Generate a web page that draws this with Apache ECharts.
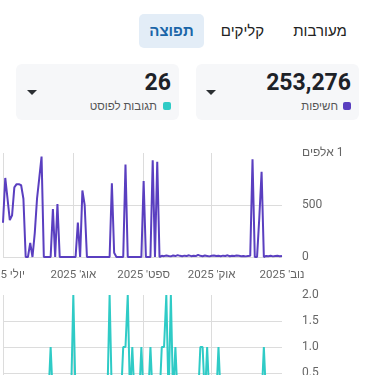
<!DOCTYPE html>
<html dir="rtl" lang="he">
<head>
<meta charset="utf-8">
<script src="https://cdn.jsdelivr.net/npm/echarts@6/dist/echarts.min.js"></script>
<style>
html,body{margin:0;padding:0;width:375px;height:375px;overflow:hidden;background:#fff;font-family:Roboto,"Liberation Sans",Arial,sans-serif;}
.tab{position:absolute;top:14px;height:34px;line-height:34px;font-size:15px;color:#222;text-align:center;}
.tab.sel{background:#e3edf7;color:#1a65a8;font-weight:700;border-radius:5px;}
.card{position:absolute;top:64px;width:163px;height:56px;background:#f6f7f9;border-radius:6px;}
.num{position:absolute;right:8px;top:5px;font-size:23px;line-height:28px;font-weight:700;color:#1d2228;}
.caret{position:absolute;left:10px;top:26px;width:0;height:0;border-left:5.5px solid transparent;border-right:5.5px solid transparent;border-top:5.5px solid #2b2f33;}
.sq{position:absolute;right:8px;top:38px;width:8px;height:8px;border-radius:2px;}
.lab{position:absolute;right:21px;top:35px;font-size:11.5px;line-height:14px;color:#555;white-space:nowrap;}
#chart{position:absolute;top:130px;left:0;width:375px;height:320px;}
</style>
</head>
<body>
<div class="tab" style="left:285px;width:70px;">מעורבות</div>
<div class="tab" style="left:207px;width:71px;">קליקים</div>
<div class="tab sel" style="left:139px;width:65px;">תפוצה</div>

<div class="card" style="left:196px;">
  <div class="num" id="n1"></div>
  <div class="caret"></div>
  <div class="sq" style="background:#5a3fc0;"></div>
  <div class="lab" id="l1"></div>
</div>
<div class="card" style="left:16px;">
  <div class="num" id="n2"></div>
  <div class="caret" style="left:11px;"></div>
  <div class="sq" style="background:#2fcbc6;"></div>
  <div class="lab" id="l2" style="right:22px;"></div>
</div>

<div id="chart"></div>
<script>
// ---- data ----
const tabLabels = ['מעורבות', 'קליקים', 'תפוצה'];
const kpiValues = ['253,276', '26'];
const kpiLabels = ['חשיפות', 'תגובות לפוסט'];
const monthNames = ['ינו\'', 'פבר\'', 'מרץ', 'אפר\'', 'מאי', 'יוני', 'יולי', 'אוג\'', 'ספט\'', 'אוק\'', 'נוב\'', 'דצמ\''];
const startDate = [2025, 6, 1]; // 1 July 2025, daily values follow
const impressions = [
  330,760,560,355,400,670,700,700,690,560,
  0,0,135,0,230,560,760,965,0,0,
  0,0,460,0,510,0,0,0,0,0,
  0,0,0,330,0,640,500,0,0,0,
  0,0,0,0,0,0,0,0,710,40,
  0,0,0,0,890,0,0,0,0,0,
  0,0,730,0,0,0,930,0,915,0,
  12,8,15,10,6,14,9,18,11,7,
  13,10,16,8,12,9,20,11,7,14,
  10,6,12,15,9,11,8,13,10,16,
  7,12,9,14,11,8,10,6,9,12,
  940,0,0,380,820,0,10,8,12,6,
  9,11,7,10
];
const comments = [
  0,0,0,0,0,0,0,0,0,0,
  0,0,0,0,0,0,0,0,0,0,
  0,1,0,0,0,0,0,0,0,0,
  0,2,0,0,0,0,0,0,0,0,
  0,0,0,0,0,0,0,2,0,0,
  0,0,0,1,1,2,0,1,0,0,
  0,1,0,0,0,1,0,0,0,0,
  1,1,2,0,2,0,1,0,0,0,
  0,0,0,0,0,0,0,1,1,0,
  1,0,0,0,0,1,0,0,0,0,
  0,0,0,0,0,0,0,0,0,0,
  0,0,0,0,0,1,0,0,0,0,
  0,0,0,0
];
const colors = ['#5a3fc0', '#2fcbc6'];

document.getElementById('n1').textContent = kpiValues[0];
document.getElementById('n2').textContent = kpiValues[1];
document.getElementById('l1').textContent = kpiLabels[0];
document.getElementById('l2').textContent = kpiLabels[1];

const DAY = 24 * 3600 * 1000;
const t0 = new Date(startDate[0], startDate[1], startDate[2]).getTime();
function dateAt(i) { const d = new Date(startDate[0], startDate[1], startDate[2] + i); return d.getTime(); }
const tEnd = dateAt(impressions.length - 1);
const s1 = impressions.map((v, i) => [dateAt(i), v]);
const s2 = comments.map((v, i) => [dateAt(i), v]);

const font = 'Roboto, "Liberation Sans", Arial, sans-serif';
const grid = { left: 3, right: 93, height: 104, outerBoundsMode: 'none', containLabel: false };
function xAx(i) {
  return {
    type: 'time', gridIndex: i, min: t0, max: tEnd,
    minInterval: 28 * DAY, maxInterval: 31 * DAY,
    axisLine: { show: false }, axisTick: { show: false },
    splitLine: { show: true, showMinLine: false, showMaxLine: false, lineStyle: { color: '#dcdcdc', width: 1 } },
    axisLabel: {
      show: i === 0, fontSize: 11.5, color: '#666', margin: 12, fontFamily: font,
      hideOverlap: false, showMinLabel: true, showMaxLabel: true,
      alignMinLabel: 'center', alignMaxLabel: 'center',
      formatter: function (v) { const d = new Date(v); return monthNames[d.getMonth()] + ' ' + d.getFullYear(); }
    }
  };
}
function yAx(i, max, interval, fmt) {
  return {
    type: 'value', gridIndex: i, position: 'right', min: 0, max: max, interval: interval,
    axisLine: { show: false }, axisTick: { show: false },
    splitLine: { show: true, showMaxLine: false, lineStyle: { color: '#dcdcdc', width: 1 } },
    axisLabel: { fontSize: 12, color: '#666', margin: 20, fontFamily: font, formatter: fmt }
  };
}
const chart = echarts.init(document.getElementById('chart'), null, { renderer: 'canvas' });
chart.setOption({
  animation: false,
  textStyle: { fontFamily: font },
  grid: [Object.assign({ top: 23 }, grid), Object.assign({ top: 165 }, grid)],
  xAxis: [xAx(0), xAx(1)],
  yAxis: [
    yAx(0, 1000, 500, v => v === 1000 ? '1 אלפים' : String(v)),
    yAx(1, 2, 0.5, v => v.toFixed(1))
  ],
  series: [
    { type: 'line', xAxisIndex: 0, yAxisIndex: 0, data: s1, showSymbol: false, symbol: 'none',
      lineStyle: { color: colors[0], width: 2 }, itemStyle: { color: colors[0] } },
    { type: 'line', xAxisIndex: 1, yAxisIndex: 1, data: s2, showSymbol: false, symbol: 'none',
      lineStyle: { color: colors[1], width: 2 }, itemStyle: { color: colors[1] } }
  ]
});
</script>
</body>
</html>
